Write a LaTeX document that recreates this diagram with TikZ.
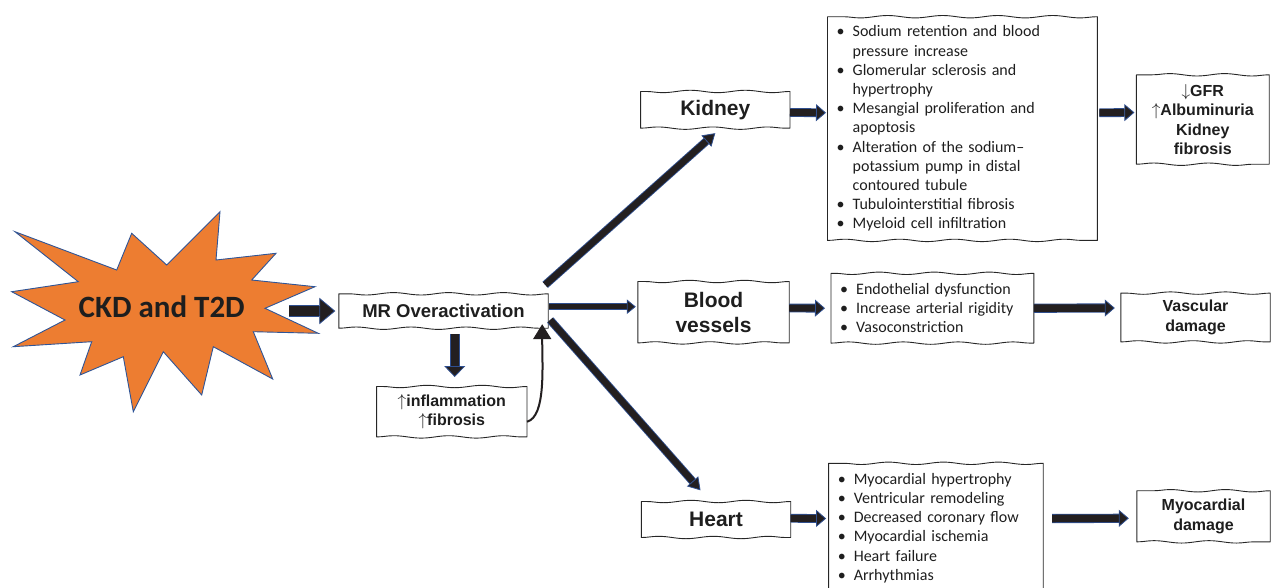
\documentclass[tikz,border=0pt]{standalone}
\usepackage{fontspec}
\setmainfont{Carlito}
\newfontfamily\labfont{Liberation Sans}
\usetikzlibrary{arrows.meta,decorations.pathmorphing}
\definecolor{burst}{HTML}{ED7D31}
\definecolor{burstedge}{HTML}{2F5597}
\definecolor{arrowblack}{HTML}{231F20}
\definecolor{edgeblue}{HTML}{2F4F8F}
\definecolor{txt}{HTML}{1E1E1E}
\newcommand\bul{\makebox[16pt][l]{\textbullet}}
\newcommand\cnt{\hspace*{16pt}}
\newcommand\upar{{\mdseries$\uparrow$}}
\newcommand\dnar{{\mdseries$\downarrow$}}
\newcommand\wavyframe[1]{%
  \draw[outl] (#1.north west) -- (#1.south west)
    decorate{-- (#1.south east)} -- (#1.north east)
    decorate{-- (#1.north west)} -- cycle;}
\begin{document}
\begin{tikzpicture}[x=1pt,y=-1pt,
  outl/.style={draw=black!85, line width=0.9pt, line join=round,
    decoration={snake, amplitude=1.2pt, segment length=55pt}},
  wbox/.style={inner sep=0pt, text=txt},
  labbig/.style={wbox, align=center, font=\labfont\bfseries\fontsize{21}{25}\selectfont},
  labmid/.style={wbox, align=center, font=\labfont\bfseries\fontsize{18.5}{22}\selectfont},
  labsm/.style={wbox, align=center, font=\labfont\bfseries\fontsize{16}{19.4}\selectfont},
  listbox/.style={wbox, anchor=north west, align=left, inner xsep=9pt,
    font=\fontsize{16}{19.2}\selectfont},
  barrow/.style n args={4}{draw=arrowblack, line width=#1,
    -{Triangle[length=#3,width=#4,line width=0.8pt,color=edgeblue,fill=arrowblack]},
    preaction={draw=edgeblue, line width=#2, arrows=-, shorten >=#3}},
  curvarrow/.style={draw=arrowblack, line width=2pt,
    -{Triangle[length=15pt,width=18pt]}}
]
\useasboundingbox (0,0) rectangle (1272,587);
\clip (0,0) rectangle (1272,587);

% starburst
\filldraw[fill=burst, draw=burstedge, line width=0.9pt]
  (15,231.7) -- (116.7,270) -- (131.7,233.3) -- (166.7,265) -- (220,211.7)
  -- (216,260) -- (276,253.3) -- (251.7,280) -- (315,286.7) -- (265,308.3)
  -- (318.3,333.3) -- (253.3,331.7) -- (272.7,379) -- (213.3,346.7)
  -- (201.7,395) -- (163.3,351.7) -- (133.3,411.7) -- (123.3,356.7)
  -- (80,375) -- (91.7,341.7) -- (13.3,346.7) -- (65,320) -- (11.7,291.7)
  -- (78.3,281.7) -- cycle;
\node[font=\bfseries\fontsize{31}{36}\selectfont, text=txt] (ckd) at (161.7,307) {CKD and T2D};
\coordinate (burstR) at (289,311);

% boxes
\node[labmid, minimum width=209pt, minimum height=34pt] (mr) at (443.5,311) {MR Overactivation};
\node[labsm, minimum width=150pt, minimum height=50pt] (infl) at (451.8,411.7)
  {\upar inflammation\\\upar fibrosis};
\node[labbig, minimum width=149pt, minimum height=36.3pt] (kidney) at (715.3,109.8) {Kidney};
\node[labbig, minimum width=151pt, minimum height=61pt] (bv) at (713.5,312.2) {Blood\\vessels};
\node[labbig, minimum width=149pt, minimum height=35.6pt] (heart) at (716,519.5) {Heart};

\node[listbox, text width=251.5pt, minimum height=223.3pt] (klist) at (827.5,16.7)
 {\bul Sodium retention and blood\\
  \cnt pressure increase\\
  \bul Glomerular sclerosis and\\
  \cnt hypertrophy\\
  \bul Mesangial proliferation and\\
  \cnt apoptosis\\
  \bul Alteration of the sodium\textendash\\
  \cnt potassium pump in distal\\
  \cnt contoured tubule\\
  \bul Tubulointerstitial fibrosis\\
  \bul Myeloid cell infiltration};
\node[listbox, text width=184.5pt, minimum height=69.4pt] (bvlist) at (831,273.3)
 {\bul Endothelial dysfunction\\
  \bul Increase arterial rigidity\\
  \bul Vasoconstriction};
\node[listbox, text width=196.2pt, minimum height=129pt] (hlist) at (828.6,463.3)
 {\bul Myocardial hypertrophy\\
  \bul Ventricular remodeling\\
  \bul Decreased coronary flow\\
  \bul Myocardial ischemia\\
  \bul Heart failure\\
  \bul Arrhythmias};

\node[labsm, minimum width=132.4pt, minimum height=89pt] (gfr) at (1202.8,119.5)
  {\dnar GFR\\\upar Albuminuria\\Kidney\\fibrosis};
\node[labsm, minimum width=149pt, minimum height=48.4pt] (vasc) at (1195.5,317.5)
  {Vascular\\damage};
\node[labsm, minimum width=133pt, minimum height=50.7pt] (myo) at (1203.5,516.3)
  {Myocardial\\damage};

% hand-drawn frames
\wavyframe{mr}
\wavyframe{infl}
\wavyframe{kidney}
\wavyframe{bv}
\wavyframe{heart}
\wavyframe{klist}
\wavyframe{bvlist}
\wavyframe{hlist}
\wavyframe{gfr}
\wavyframe{vasc}
\wavyframe{myo}

% connectors
\draw[barrow={10.3pt}{12pt}{16pt}{26.5pt}] (burstR) -- ([xshift=-3.5pt]mr.west);
\draw[barrow={8pt}{9.6pt}{11pt}{21pt}] ([xshift=11.2pt,yshift=-6pt]mr.south) -- ([xshift=2.9pt,yshift=9.5pt]infl.north);
\draw[curvarrow] ([yshift=-10pt]infl.east) .. controls +(19,-5) and +(0,42) .. ([xshift=-6pt,yshift=4pt]mr.south east);

\draw[barrow={6.5pt}{8.2pt}{12pt}{15pt}] ([shift={(-3pt,9pt)}]mr.north east) -- ([yshift=-5pt]kidney.south);
\draw[barrow={5.3pt}{6.9pt}{9pt}{14.5pt}] ([xshift=1pt,yshift=4.3pt]mr.east) -- ([xshift=-2pt,yshift=5.5pt]bv.west);
\draw[barrow={6.5pt}{8.2pt}{12pt}{15pt}] ([shift={(2pt,-9pt)}]mr.east) -- ([shift={(-15.5pt,11.2pt)}]heart.north);

\draw[barrow={7pt}{8.8pt}{10pt}{17pt}] ([yshift=-2.7pt]kidney.east) -- ([xshift=-1.5pt,yshift=15.8pt]klist.west);
\draw[barrow={7pt}{8.8pt}{10pt}{17pt}] ([xshift=2pt,yshift=15.8pt]klist.east) -- ([xshift=-2pt,yshift=7pt]gfr.west);
\draw[barrow={7pt}{8.8pt}{10pt}{17pt}] ([yshift=4.2pt]bv.east) -- ([xshift=-6pt]bvlist.west);
\draw[barrow={7.5pt}{9.2pt}{10pt}{17pt}] (bvlist.east) -- ([xshift=-6pt,yshift=9.5pt]vasc.west);
\draw[barrow={7pt}{8.8pt}{10pt}{17pt}] ([yshift=1.2pt]heart.east) -- ([xshift=-2.5pt,yshift=9.5pt]hlist.west);
\draw[barrow={7.5pt}{9.2pt}{10pt}{17pt}] ([xshift=9pt,yshift=9.5pt]hlist.east) -- ([xshift=-8pt,yshift=-2pt]myo.west);
\end{tikzpicture}
\end{document}
